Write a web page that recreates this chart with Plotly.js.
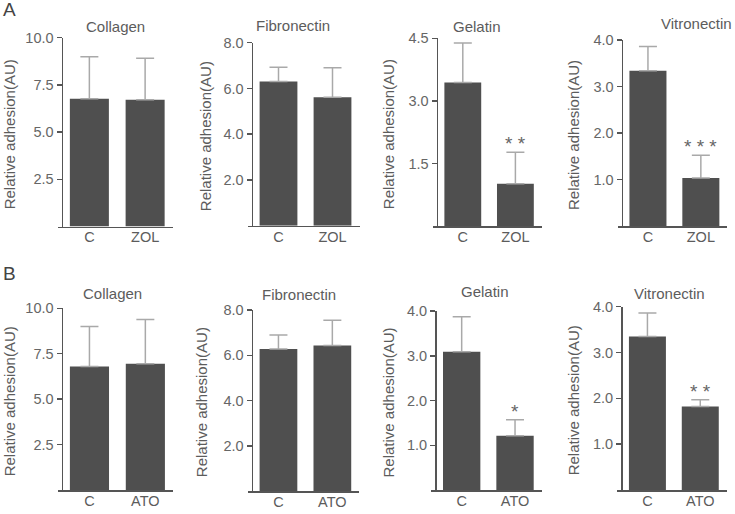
<!DOCTYPE html>
<html><head><meta charset="utf-8">
<script src="https://cdn.plot.ly/plotly-3.0.1.min.js"></script>
<style>html,body{margin:0;padding:0;background:#fff}</style>
</head><body><div id="chart" style="width:735px;height:514px"></div>
<script>
const W = 735, H = 514;
const FONT = "Liberation Sans, Arial, Helvetica, sans-serif";

// ---- data ----
const substrates = ["Collagen", "Fibronectin", "Gelatin", "Vitronectin"];
const groupsA = ["C", "ZOL"];
const groupsB = ["C", "ATO"];
const collagenA = [6.77, 6.72];     const collagenA_sd = [2.22, 2.19];
const fibronectinA = [6.30, 5.62];  const fibronectinA_sd = [0.63, 1.28];
const gelatinA = [3.44, 1.01];      const gelatinA_sd = [0.95, 0.76];
const vitronectinA = [3.34, 1.03];  const vitronectinA_sd = [0.52, 0.49];
const collagenB = [6.80, 6.95];     const collagenB_sd = [2.20, 2.43];
const fibronectinB = [6.28, 6.43];  const fibronectinB_sd = [0.62, 1.12];
const gelatinB = [3.09, 1.21];      const gelatinB_sd = [0.78, 0.36];
const vitronectinB = [3.35, 1.82];  const vitronectinB_sd = [0.51, 0.15];
const sigA = ["", "", "* *", "* * *"];
const sigB = ["", "", "*", "* *"];
const yMaxA = [10, 8, 4.5, 4];  const yStepA = [2.5, 2, 1.5, 1];
const yMaxB = [10, 8, 4, 4];    const yStepB = [2.5, 2, 1, 1];

const meansA = [collagenA, fibronectinA, gelatinA, vitronectinA];
const sdsA = [collagenA_sd, fibronectinA_sd, gelatinA_sd, vitronectinA_sd];
const meansB = [collagenB, fibronectinB, gelatinB, vitronectinB];
const sdsB = [collagenB_sd, fibronectinB_sd, gelatinB_sd, vitronectinB_sd];

// ---- layout geometry (px): y-axis x, x-axis end, top tick y, baseline y ----
const frames = [
  [61.5, 173, 37.7, 226.5], [251.5, 359.5, 42.7, 225.7], [436.5, 541.7, 38.3, 226], [621.5, 727.3, 40, 226],
  [61.5, 173.3, 308.3, 490], [251.5, 359.3, 310, 491], [435, 541.7, 311, 490], [621, 726.7, 306.7, 490]
];
const titlePos = [[115.5, 26.7], [293, 25.7], [476.7, 26], [696.7, 23.3],
                  [112, 293.3], [299, 294], [484.7, 291.7], [669.5, 293.3]];
const yTitleX = [9.2, 205, 388, 574, 9.2, 201.7, 388, 573];

const data = [];
const layout = {
  width: W, height: H, margin: {l: 0, r: 0, t: 0, b: 0},
  paper_bgcolor: "#fff", plot_bgcolor: "rgba(0,0,0,0)",
  showlegend: false, font: {family: FONT, color: "#5c5c5c"},
  annotations: []
};
const axisCol = "#555555";
const textCol = "#5c5c5c";

for (let i = 0; i < 8; i++) {
  const rowA = i < 4, k = i % 4;
  const groups = rowA ? groupsA : groupsB;
  const means = (rowA ? meansA : meansB)[k];
  const sds = (rowA ? sdsA : sdsB)[k];
  const ymax = (rowA ? yMaxA : yMaxB)[k];
  const ystep = (rowA ? yStepA : yStepB)[k];
  const sig = (rowA ? sigA : sigB)[k];
  const [x0, x1, yT, yB] = frames[i];
  const n = i === 0 ? "" : String(i + 1);
  const unit = (x1 - x0) / 2;
  const lo = -0.5 - 4 / unit;

  data.push({
    type: "bar", x: groups, y: means, xaxis: "x" + n, yaxis: "y" + n,
    width: 0.7, marker: {color: "#4f4f4f", line: {width: 0}},
    error_y: {type: "data", symmetric: false, array: sds, arrayminus: [0, 0],
              color: "#a9a9a9", thickness: 1.5, width: 9},
    hoverinfo: "none"
  });

  const tv = [];
  for (let v = ystep; v <= ymax + 1e-9; v += ystep) tv.push(+v.toFixed(3));
  layout["xaxis" + n] = {
    domain: [(x0 - 4) / W, x1 / W], range: [lo, 1.5], type: "category",
    anchor: "y" + n, showline: true, linecolor: axisCol, linewidth: 1.5,
    ticks: "", showgrid: false, zeroline: false, fixedrange: true, ticklabelstandoff: -3,
    tickfont: {size: 14.5, color: textCol, family: FONT}
  };
  layout["yaxis" + n] = {
    domain: [1 - yB / H, 1 - yT / H], range: [0, ymax], anchor: "free", position: x0 / W,
    showline: true, linecolor: axisCol, linewidth: 1.5,
    ticks: "outside", ticklen: 5, tickwidth: 1.5, tickcolor: axisCol,
    tickvals: tv, ticktext: tv.map(v => v.toFixed(1)),
    showgrid: false, zeroline: false, fixedrange: true,
    tickfont: {size: 14.5, color: "#666", family: FONT}
  };

  layout.annotations.push({
    xref: "paper", yref: "paper", x: titlePos[i][0] / W, y: 1 - titlePos[i][1] / H,
    xanchor: "center", yanchor: "middle", showarrow: false, text: substrates[k],
    font: {size: 15, color: textCol, family: FONT}
  });
  layout.annotations.push({
    xref: "paper", yref: "paper", x: yTitleX[i] / W, y: 1 - ((yT + yB) / 2 + 2) / H,
    xanchor: "center", yanchor: "middle", showarrow: false, textangle: -90,
    text: "Relative adhesion(AU)", font: {size: 15, color: textCol, family: FONT}
  });
  if (sig) {
    layout.annotations.push({
      xref: "x" + n, yref: "y" + n, x: groups[1], y: means[1] + sds[1],
      xanchor: "center", yanchor: "bottom", yshift: -4, showarrow: false, text: sig,
      font: {size: 19, color: "#666", family: FONT}
    });
  }
}
layout.annotations.push({xref: "paper", yref: "paper", x: 1 / W, y: 1 - 9 / H, xanchor: "left", yanchor: "middle",
  showarrow: false, text: "A", font: {size: 19, color: "#444", family: FONT}});
layout.annotations.push({xref: "paper", yref: "paper", x: 1 / W, y: 1 - 273 / H, xanchor: "left", yanchor: "middle",
  showarrow: false, text: "B", font: {size: 19, color: "#444", family: FONT}});

Plotly.newPlot("chart", data, layout, {staticPlot: true, displayModeBar: false});
</script></body></html>
